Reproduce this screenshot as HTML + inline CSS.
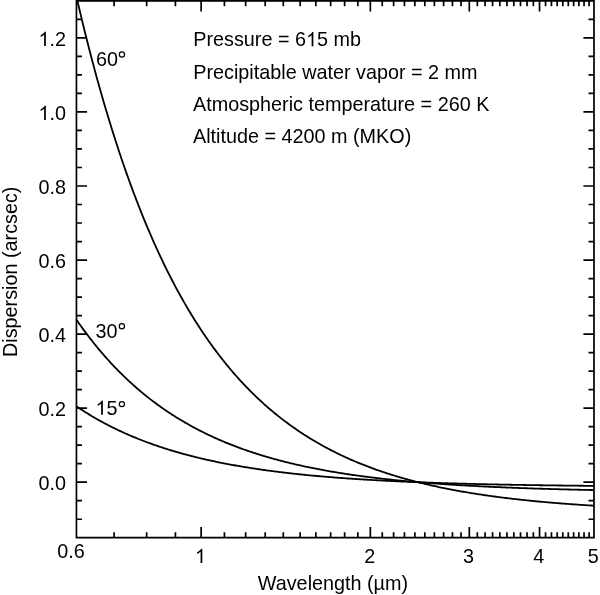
<!DOCTYPE html>
<html><head><meta charset="utf-8"><style>
html,body{margin:0;padding:0;background:#fff;}
svg{display:block;will-change:transform;}
text{font-family:"Liberation Sans",sans-serif;font-size:19.80px;fill:#000;}
.o{fill:none;}
</style></head><body>
<svg width="600" height="595" viewBox="0 0 600 595">
<g fill="none" stroke="#000" stroke-width="1.7" stroke-linecap="butt">
<path d="M76.45,0.87H594.00V537.70H76.45Z" stroke-linejoin="miter"/>
<path d="M201.14,537.70V527.10 M201.14,0.87V11.47 M370.34,537.70V527.10 M370.34,0.87V11.47 M469.31,537.70V527.10 M469.31,0.87V11.47 M539.54,537.70V527.10 M539.54,0.87V11.47 M114.08,537.70V532.20 M114.08,0.87V6.37 M146.67,537.70V532.20 M146.67,0.87V6.37 M175.42,537.70V532.20 M175.42,0.87V6.37 M224.41,537.70V532.20 M224.41,0.87V6.37 M245.65,537.70V532.20 M245.65,0.87V6.37 M265.19,537.70V532.20 M265.19,0.87V6.37 M283.28,537.70V532.20 M283.28,0.87V6.37 M300.12,537.70V532.20 M300.12,0.87V6.37 M315.87,537.70V532.20 M315.87,0.87V6.37 M330.67,537.70V532.20 M330.67,0.87V6.37 M344.62,537.70V532.20 M344.62,0.87V6.37 M357.82,537.70V532.20 M357.82,0.87V6.37 M382.25,537.70V532.20 M382.25,0.87V6.37 M393.60,537.70V532.20 M393.60,0.87V6.37 M404.46,537.70V532.20 M404.46,0.87V6.37 M414.84,537.70V532.20 M414.84,0.87V6.37 M424.81,537.70V532.20 M424.81,0.87V6.37 M434.38,537.70V532.20 M434.38,0.87V6.37 M443.60,537.70V532.20 M443.60,0.87V6.37 M452.47,537.70V532.20 M452.47,0.87V6.37 M461.04,537.70V532.20 M461.04,0.87V6.37 M477.32,537.70V532.20 M477.32,0.87V6.37 M485.07,537.70V532.20 M485.07,0.87V6.37 M492.58,537.70V532.20 M492.58,0.87V6.37 M499.87,537.70V532.20 M499.87,0.87V6.37 M506.94,537.70V532.20 M506.94,0.87V6.37 M513.82,537.70V532.20 M513.82,0.87V6.37 M520.51,537.70V532.20 M520.51,0.87V6.37 M527.02,537.70V532.20 M527.02,0.87V6.37 M533.36,537.70V532.20 M533.36,0.87V6.37 M545.56,537.70V532.20 M545.56,0.87V6.37 M551.45,537.70V532.20 M551.45,0.87V6.37 M557.19,537.70V532.20 M557.19,0.87V6.37 M562.80,537.70V532.20 M562.80,0.87V6.37 M568.29,537.70V532.20 M568.29,0.87V6.37 M573.65,537.70V532.20 M573.65,0.87V6.37 M578.90,537.70V532.20 M578.90,0.87V6.37 M584.04,537.70V532.20 M584.04,0.87V6.37 M589.07,537.70V532.20 M589.07,0.87V6.37 M76.45,519.23H81.95 M594.00,519.23H588.50 M76.45,500.71H81.95 M594.00,500.71H588.50 M76.45,482.20H87.05 M594.00,482.20H583.40 M76.45,463.69H81.95 M594.00,463.69H588.50 M76.45,445.18H81.95 M594.00,445.18H588.50 M76.45,426.66H81.95 M594.00,426.66H588.50 M76.45,408.15H87.05 M594.00,408.15H583.40 M76.45,389.64H81.95 M594.00,389.64H588.50 M76.45,371.12H81.95 M594.00,371.12H588.50 M76.45,352.61H81.95 M594.00,352.61H588.50 M76.45,334.10H87.05 M594.00,334.10H583.40 M76.45,315.59H81.95 M594.00,315.59H588.50 M76.45,297.07H81.95 M594.00,297.07H588.50 M76.45,278.56H81.95 M594.00,278.56H588.50 M76.45,260.05H87.05 M594.00,260.05H583.40 M76.45,241.54H81.95 M594.00,241.54H588.50 M76.45,223.02H81.95 M594.00,223.02H588.50 M76.45,204.51H81.95 M594.00,204.51H588.50 M76.45,186.00H87.05 M594.00,186.00H583.40 M76.45,167.49H81.95 M594.00,167.49H588.50 M76.45,148.97H81.95 M594.00,148.97H588.50 M76.45,130.46H81.95 M594.00,130.46H588.50 M76.45,111.95H87.05 M594.00,111.95H583.40 M76.45,93.44H81.95 M594.00,93.44H588.50 M76.45,74.92H81.95 M594.00,74.92H588.50 M76.45,56.41H81.95 M594.00,56.41H588.50 M76.45,37.90H87.05 M594.00,37.90H583.40 M76.45,19.39H81.95 M594.00,19.39H588.50"/>
</g>
<g fill="none" stroke="#000" stroke-width="1.8" stroke-linejoin="round">
<path d="M77.43,0.87 L77.74,2.23 L79.04,7.75 L80.33,13.21 L81.63,18.60 L82.92,23.94 L84.21,29.21 L85.51,34.43 L86.80,39.59 L88.10,44.70 L89.39,49.75 L90.68,54.74 L91.98,59.67 L93.27,64.56 L94.56,69.39 L95.86,74.16 L97.15,78.89 L98.45,83.56 L99.74,88.18 L101.03,92.75 L102.33,97.27 L103.62,101.74 L104.92,106.16 L106.21,110.53 L107.50,114.86 L108.80,119.13 L110.09,123.36 L111.39,127.55 L112.68,131.69 L113.97,135.78 L115.27,139.83 L116.56,143.83 L117.85,147.79 L119.15,151.71 L120.44,155.58 L121.74,159.42 L123.03,163.21 L124.32,166.96 L125.62,170.67 L126.91,174.33 L128.21,177.96 L129.50,181.55 L130.79,185.10 L132.09,188.61 L133.38,192.08 L134.68,195.52 L135.97,198.92 L137.26,202.28 L138.56,205.60 L139.85,208.89 L141.14,212.14 L142.44,215.36 L143.73,218.54 L145.03,221.69 L146.32,224.80 L147.61,227.88 L148.91,230.93 L150.20,233.94 L151.50,236.92 L152.79,239.87 L154.08,242.79 L155.38,245.67 L156.67,248.53 L157.97,251.35 L159.26,254.14 L160.55,256.91 L161.85,259.64 L163.14,262.34 L164.43,265.01 L165.73,267.66 L167.02,270.28 L168.32,272.86 L169.61,275.43 L170.90,277.96 L172.20,280.46 L173.49,282.94 L174.79,285.39 L176.08,287.82 L177.37,290.22 L178.67,292.59 L179.96,294.94 L181.26,297.26 L182.55,299.56 L183.84,301.83 L185.14,304.08 L186.43,306.30 L187.72,308.50 L189.02,310.68 L190.31,312.83 L191.61,314.96 L192.90,317.07 L194.19,319.16 L195.49,321.22 L196.78,323.26 L198.08,325.28 L199.37,327.27 L200.66,329.25 L201.96,331.20 L203.25,333.13 L204.55,335.05 L205.84,336.94 L207.13,338.81 L208.43,340.66 L209.72,342.49 L211.01,344.30 L212.31,346.10 L213.60,347.87 L214.90,349.62 L216.19,351.36 L217.48,353.08 L218.78,354.78 L220.07,356.46 L221.37,358.12 L222.66,359.76 L223.95,361.39 L225.25,363.00 L226.54,364.59 L227.84,366.17 L229.13,367.72 L230.42,369.27 L231.72,370.79 L233.01,372.30 L234.30,373.79 L235.60,375.27 L236.89,376.73 L238.19,378.18 L239.48,379.61 L240.77,381.02 L242.07,382.42 L243.36,383.81 L244.66,385.18 L245.95,386.53 L247.24,387.87 L248.54,389.20 L249.83,390.51 L251.13,391.81 L252.42,393.10 L253.71,394.37 L255.01,395.62 L256.30,396.87 L257.59,398.10 L258.89,399.32 L260.18,400.52 L261.48,401.71 L262.77,402.89 L264.06,404.06 L265.36,405.21 L266.65,406.35 L267.95,407.48 L269.24,408.60 L270.53,409.71 L271.83,410.80 L273.12,411.88 L274.42,412.95 L275.71,414.01 L277.00,415.06 L278.30,416.10 L279.59,417.12 L280.88,418.14 L282.18,419.14 L283.47,420.14 L284.77,421.12 L286.06,422.09 L287.35,423.05 L288.65,424.00 L289.94,424.95 L291.24,425.88 L292.53,426.80 L293.82,427.71 L295.12,428.61 L296.41,429.51 L297.71,430.39 L299.00,431.26 L300.29,432.13 L301.59,432.98 L302.88,433.83 L304.17,434.67 L305.47,435.50 L306.76,436.32 L308.06,437.13 L309.35,437.93 L310.64,438.72 L311.94,439.51 L313.23,440.29 L314.53,441.05 L315.82,441.81 L317.11,442.57 L318.41,443.31 L319.70,444.05 L321.00,444.78 L322.29,445.50 L323.58,446.21 L324.88,446.92 L326.17,447.62 L327.46,448.31 L328.76,448.99 L330.05,449.67 L331.35,450.34 L332.64,451.00 L333.93,451.65 L335.23,452.30 L336.52,452.94 L337.82,453.58 L339.11,454.20 L340.40,454.83 L341.70,455.44 L342.99,456.05 L344.29,456.65 L345.58,457.24 L346.87,457.83 L348.17,458.42 L349.46,458.99 L350.75,459.56 L352.05,460.13 L353.34,460.69 L354.64,461.24 L355.93,461.78 L357.22,462.33 L358.52,462.86 L359.81,463.39 L361.11,463.91 L362.40,464.43 L363.69,464.94 L364.99,465.45 L366.28,465.95 L367.58,466.45 L368.87,466.94 L370.16,467.43 L371.46,467.91 L372.75,468.38 L374.04,468.85 L375.34,469.32 L376.63,469.78 L377.93,470.24 L379.22,470.69 L380.51,471.14 L381.81,471.58 L383.10,472.01 L384.40,472.45 L385.69,472.87 L386.98,473.30 L388.28,473.72 L389.57,474.13 L390.87,474.54 L392.16,474.95 L393.45,475.35 L394.75,475.74 L396.04,476.14 L397.33,476.53 L398.63,476.91 L399.92,477.29 L401.22,477.67 L402.51,478.04 L403.80,478.41 L405.10,478.77 L406.39,479.13 L407.69,479.49 L408.98,479.84 L410.27,480.19 L411.57,480.54 L412.86,480.88 L414.16,481.22 L415.45,481.56 L416.74,481.89 L418.04,482.22 L419.33,482.54 L420.62,482.86 L421.92,483.18 L423.21,483.49 L424.51,483.80 L425.80,484.11 L427.09,484.42 L428.39,484.72 L429.68,485.01 L430.98,485.31 L432.27,485.60 L433.56,485.89 L434.86,486.18 L436.15,486.46 L437.45,486.74 L438.74,487.01 L440.03,487.29 L441.33,487.56 L442.62,487.83 L443.91,488.09 L445.21,488.35 L446.50,488.61 L447.80,488.87 L449.09,489.12 L450.38,489.38 L451.68,489.62 L452.97,489.87 L454.27,490.11 L455.56,490.36 L456.85,490.59 L458.15,490.83 L459.44,491.06 L460.74,491.29 L462.03,491.52 L463.32,491.75 L464.62,491.97 L465.91,492.19 L467.21,492.41 L468.50,492.63 L469.79,492.84 L471.09,493.06 L472.38,493.27 L473.67,493.47 L474.97,493.68 L476.26,493.88 L477.56,494.08 L478.85,494.28 L480.14,494.48 L481.44,494.67 L482.73,494.87 L484.03,495.06 L485.32,495.25 L486.61,495.43 L487.91,495.62 L489.20,495.80 L490.50,495.98 L491.79,496.16 L493.08,496.34 L494.38,496.51 L495.67,496.69 L496.96,496.86 L498.26,497.03 L499.55,497.19 L500.85,497.36 L502.14,497.53 L503.43,497.69 L504.73,497.85 L506.02,498.01 L507.32,498.17 L508.61,498.32 L509.90,498.48 L511.20,498.63 L512.49,498.78 L513.79,498.93 L515.08,499.08 L516.37,499.22 L517.67,499.37 L518.96,499.51 L520.25,499.65 L521.55,499.79 L522.84,499.93 L524.14,500.07 L525.43,500.20 L526.72,500.34 L528.02,500.47 L529.31,500.60 L530.61,500.73 L531.90,500.86 L533.19,500.99 L534.49,501.12 L535.78,501.24 L537.08,501.36 L538.37,501.49 L539.66,501.61 L540.96,501.73 L542.25,501.84 L543.54,501.96 L544.84,502.08 L546.13,502.19 L547.43,502.31 L548.72,502.42 L550.01,502.53 L551.31,502.64 L552.60,502.75 L553.90,502.85 L555.19,502.96 L556.48,503.07 L557.78,503.17 L559.07,503.27 L560.37,503.38 L561.66,503.48 L562.95,503.58 L564.25,503.67 L565.54,503.77 L566.83,503.87 L568.13,503.96 L569.42,504.06 L570.72,504.15 L572.01,504.25 L573.30,504.34 L574.60,504.43 L575.89,504.52 L577.19,504.61 L578.48,504.69 L579.77,504.78 L581.07,504.87 L582.36,504.95 L583.66,505.04 L584.95,505.12 L586.24,505.20 L587.54,505.28 L588.83,505.37 L590.12,505.44 L591.42,505.52 L592.71,505.60 L594.01,505.68"/>
<path d="M76.45,319.72 L77.74,321.59 L79.04,323.43 L80.33,325.26 L81.63,327.06 L82.92,328.85 L84.21,330.62 L85.51,332.36 L86.80,334.09 L88.10,335.80 L89.39,337.49 L90.68,339.16 L91.98,340.81 L93.27,342.44 L94.56,344.06 L95.86,345.66 L97.15,347.24 L98.45,348.80 L99.74,350.35 L101.03,351.88 L102.33,353.39 L103.62,354.88 L104.92,356.36 L106.21,357.83 L107.50,359.27 L108.80,360.71 L110.09,362.12 L111.39,363.52 L112.68,364.91 L113.97,366.28 L115.27,367.63 L116.56,368.97 L117.85,370.30 L119.15,371.61 L120.44,372.90 L121.74,374.19 L123.03,375.45 L124.32,376.71 L125.62,377.95 L126.91,379.18 L128.21,380.39 L129.50,381.59 L130.79,382.78 L132.09,383.95 L133.38,385.12 L134.68,386.27 L135.97,387.40 L137.26,388.53 L138.56,389.64 L139.85,390.74 L141.14,391.83 L142.44,392.91 L143.73,393.97 L145.03,395.02 L146.32,396.07 L147.61,397.10 L148.91,398.12 L150.20,399.12 L151.50,400.12 L152.79,401.11 L154.08,402.08 L155.38,403.05 L156.67,404.01 L157.97,404.95 L159.26,405.88 L160.55,406.81 L161.85,407.72 L163.14,408.63 L164.43,409.52 L165.73,410.41 L167.02,411.28 L168.32,412.15 L169.61,413.01 L170.90,413.85 L172.20,414.69 L173.49,415.52 L174.79,416.34 L176.08,417.15 L177.37,417.96 L178.67,418.75 L179.96,419.54 L181.26,420.31 L182.55,421.08 L183.84,421.84 L185.14,422.60 L186.43,423.34 L187.72,424.08 L189.02,424.80 L190.31,425.52 L191.61,426.24 L192.90,426.94 L194.19,427.64 L195.49,428.33 L196.78,429.01 L198.08,429.69 L199.37,430.36 L200.66,431.02 L201.96,431.67 L203.25,432.32 L204.55,432.96 L205.84,433.59 L207.13,434.22 L208.43,434.84 L209.72,435.45 L211.01,436.06 L212.31,436.66 L213.60,437.25 L214.90,437.84 L216.19,438.42 L217.48,438.99 L218.78,439.56 L220.07,440.12 L221.37,440.68 L222.66,441.23 L223.95,441.77 L225.25,442.31 L226.54,442.84 L227.84,443.37 L229.13,443.89 L230.42,444.41 L231.72,444.92 L233.01,445.42 L234.30,445.92 L235.60,446.42 L236.89,446.91 L238.19,447.39 L239.48,447.87 L240.77,448.34 L242.07,448.81 L243.36,449.27 L244.66,449.73 L245.95,450.19 L247.24,450.64 L248.54,451.08 L249.83,451.52 L251.13,451.95 L252.42,452.38 L253.71,452.81 L255.01,453.23 L256.30,453.64 L257.59,454.06 L258.89,454.46 L260.18,454.87 L261.48,455.27 L262.77,455.66 L264.06,456.05 L265.36,456.44 L266.65,456.82 L267.95,457.20 L269.24,457.57 L270.53,457.94 L271.83,458.31 L273.12,458.67 L274.42,459.03 L275.71,459.38 L277.00,459.73 L278.30,460.08 L279.59,460.42 L280.88,460.76 L282.18,461.10 L283.47,461.43 L284.77,461.76 L286.06,462.09 L287.35,462.41 L288.65,462.73 L289.94,463.04 L291.24,463.35 L292.53,463.66 L293.82,463.97 L295.12,464.27 L296.41,464.57 L297.71,464.86 L299.00,465.16 L300.29,465.44 L301.59,465.73 L302.88,466.01 L304.17,466.29 L305.47,466.57 L306.76,466.85 L308.06,467.12 L309.35,467.39 L310.64,467.65 L311.94,467.91 L313.23,468.17 L314.53,468.43 L315.82,468.69 L317.11,468.94 L318.41,469.19 L319.70,469.43 L321.00,469.68 L322.29,469.92 L323.58,470.16 L324.88,470.39 L326.17,470.63 L327.46,470.86 L328.76,471.09 L330.05,471.31 L331.35,471.54 L332.64,471.76 L333.93,471.98 L335.23,472.19 L336.52,472.41 L337.82,472.62 L339.11,472.83 L340.40,473.04 L341.70,473.25 L342.99,473.45 L344.29,473.65 L345.58,473.85 L346.87,474.05 L348.17,474.24 L349.46,474.43 L350.75,474.62 L352.05,474.81 L353.34,475.00 L354.64,475.19 L355.93,475.37 L357.22,475.55 L358.52,475.73 L359.81,475.91 L361.11,476.08 L362.40,476.25 L363.69,476.43 L364.99,476.60 L366.28,476.76 L367.58,476.93 L368.87,477.09 L370.16,477.26 L371.46,477.42 L372.75,477.58 L374.04,477.73 L375.34,477.89 L376.63,478.04 L377.93,478.20 L379.22,478.35 L380.51,478.50 L381.81,478.65 L383.10,478.79 L384.40,478.94 L385.69,479.08 L386.98,479.22 L388.28,479.36 L389.57,479.50 L390.87,479.64 L392.16,479.77 L393.45,479.91 L394.75,480.04 L396.04,480.17 L397.33,480.30 L398.63,480.43 L399.92,480.56 L401.22,480.68 L402.51,480.81 L403.80,480.93 L405.10,481.05 L406.39,481.17 L407.69,481.29 L408.98,481.41 L410.27,481.53 L411.57,481.64 L412.86,481.76 L414.16,481.87 L415.45,481.98 L416.74,482.10 L418.04,482.21 L419.33,482.31 L420.62,482.42 L421.92,482.53 L423.21,482.63 L424.51,482.74 L425.80,482.84 L427.09,482.94 L428.39,483.04 L429.68,483.14 L430.98,483.24 L432.27,483.34 L433.56,483.43 L434.86,483.53 L436.15,483.62 L437.45,483.72 L438.74,483.81 L440.03,483.90 L441.33,483.99 L442.62,484.08 L443.91,484.17 L445.21,484.26 L446.50,484.35 L447.80,484.43 L449.09,484.52 L450.38,484.60 L451.68,484.68 L452.97,484.77 L454.27,484.85 L455.56,484.93 L456.85,485.01 L458.15,485.09 L459.44,485.17 L460.74,485.24 L462.03,485.32 L463.32,485.40 L464.62,485.47 L465.91,485.54 L467.21,485.62 L468.50,485.69 L469.79,485.76 L471.09,485.83 L472.38,485.90 L473.67,485.97 L474.97,486.04 L476.26,486.11 L477.56,486.18 L478.85,486.24 L480.14,486.31 L481.44,486.37 L482.73,486.44 L484.03,486.50 L485.32,486.57 L486.61,486.63 L487.91,486.69 L489.20,486.75 L490.50,486.81 L491.79,486.87 L493.08,486.93 L494.38,486.99 L495.67,487.05 L496.96,487.10 L498.26,487.16 L499.55,487.22 L500.85,487.27 L502.14,487.33 L503.43,487.38 L504.73,487.44 L506.02,487.49 L507.32,487.54 L508.61,487.59 L509.90,487.65 L511.20,487.70 L512.49,487.75 L513.79,487.80 L515.08,487.85 L516.37,487.90 L517.67,487.94 L518.96,487.99 L520.25,488.04 L521.55,488.09 L522.84,488.13 L524.14,488.18 L525.43,488.22 L526.72,488.27 L528.02,488.31 L529.31,488.36 L530.61,488.40 L531.90,488.44 L533.19,488.49 L534.49,488.53 L535.78,488.57 L537.08,488.61 L538.37,488.65 L539.66,488.69 L540.96,488.73 L542.25,488.77 L543.54,488.81 L544.84,488.85 L546.13,488.89 L547.43,488.93 L548.72,488.97 L550.01,489.00 L551.31,489.04 L552.60,489.08 L553.90,489.11 L555.19,489.15 L556.48,489.18 L557.78,489.22 L559.07,489.25 L560.37,489.29 L561.66,489.32 L562.95,489.35 L564.25,489.39 L565.54,489.42 L566.83,489.45 L568.13,489.48 L569.42,489.51 L570.72,489.55 L572.01,489.58 L573.30,489.61 L574.60,489.64 L575.89,489.67 L577.19,489.70 L578.48,489.73 L579.77,489.76 L581.07,489.79 L582.36,489.81 L583.66,489.84 L584.95,489.87 L586.24,489.90 L587.54,489.92 L588.83,489.95 L590.12,489.98 L591.42,490.00 L592.71,490.03 L594.01,490.06"/>
<path d="M76.45,406.34 L77.74,407.21 L79.04,408.08 L80.33,408.93 L81.63,409.77 L82.92,410.60 L84.21,411.43 L85.51,412.24 L86.80,413.05 L88.10,413.85 L89.39,414.64 L90.68,415.42 L91.98,416.19 L93.27,416.95 L94.56,417.71 L95.86,418.45 L97.15,419.19 L98.45,419.92 L99.74,420.64 L101.03,421.36 L102.33,422.06 L103.62,422.76 L104.92,423.45 L106.21,424.13 L107.50,424.81 L108.80,425.48 L110.09,426.14 L111.39,426.79 L112.68,427.44 L113.97,428.08 L115.27,428.71 L116.56,429.34 L117.85,429.95 L119.15,430.57 L120.44,431.17 L121.74,431.77 L123.03,432.36 L124.32,432.95 L125.62,433.53 L126.91,434.10 L128.21,434.67 L129.50,435.23 L130.79,435.78 L132.09,436.33 L133.38,436.87 L134.68,437.41 L135.97,437.94 L137.26,438.47 L138.56,438.99 L139.85,439.50 L141.14,440.01 L142.44,440.51 L143.73,441.01 L145.03,441.50 L146.32,441.99 L147.61,442.47 L148.91,442.94 L150.20,443.41 L151.50,443.88 L152.79,444.34 L154.08,444.80 L155.38,445.25 L156.67,445.69 L157.97,446.13 L159.26,446.57 L160.55,447.00 L161.85,447.43 L163.14,447.85 L164.43,448.27 L165.73,448.68 L167.02,449.09 L168.32,449.50 L169.61,449.90 L170.90,450.29 L172.20,450.68 L173.49,451.07 L174.79,451.45 L176.08,451.83 L177.37,452.21 L178.67,452.58 L179.96,452.94 L181.26,453.31 L182.55,453.67 L183.84,454.02 L185.14,454.37 L186.43,454.72 L187.72,455.06 L189.02,455.40 L190.31,455.74 L191.61,456.07 L192.90,456.40 L194.19,456.73 L195.49,457.05 L196.78,457.37 L198.08,457.68 L199.37,458.00 L200.66,458.30 L201.96,458.61 L203.25,458.91 L204.55,459.21 L205.84,459.51 L207.13,459.80 L208.43,460.09 L209.72,460.37 L211.01,460.66 L212.31,460.94 L213.60,461.21 L214.90,461.49 L216.19,461.76 L217.48,462.03 L218.78,462.29 L220.07,462.55 L221.37,462.81 L222.66,463.07 L223.95,463.33 L225.25,463.58 L226.54,463.83 L227.84,464.07 L229.13,464.32 L230.42,464.56 L231.72,464.79 L233.01,465.03 L234.30,465.26 L235.60,465.49 L236.89,465.72 L238.19,465.95 L239.48,466.17 L240.77,466.39 L242.07,466.61 L243.36,466.83 L244.66,467.04 L245.95,467.25 L247.24,467.46 L248.54,467.67 L249.83,467.88 L251.13,468.08 L252.42,468.28 L253.71,468.48 L255.01,468.67 L256.30,468.87 L257.59,469.06 L258.89,469.25 L260.18,469.44 L261.48,469.63 L262.77,469.81 L264.06,469.99 L265.36,470.17 L266.65,470.35 L267.95,470.53 L269.24,470.70 L270.53,470.87 L271.83,471.05 L273.12,471.21 L274.42,471.38 L275.71,471.55 L277.00,471.71 L278.30,471.87 L279.59,472.03 L280.88,472.19 L282.18,472.35 L283.47,472.50 L284.77,472.66 L286.06,472.81 L287.35,472.96 L288.65,473.11 L289.94,473.26 L291.24,473.40 L292.53,473.54 L293.82,473.69 L295.12,473.83 L296.41,473.97 L297.71,474.11 L299.00,474.24 L300.29,474.38 L301.59,474.51 L302.88,474.64 L304.17,474.77 L305.47,474.90 L306.76,475.03 L308.06,475.16 L309.35,475.28 L310.64,475.41 L311.94,475.53 L313.23,475.65 L314.53,475.77 L315.82,475.89 L317.11,476.01 L318.41,476.12 L319.70,476.24 L321.00,476.35 L322.29,476.47 L323.58,476.58 L324.88,476.69 L326.17,476.80 L327.46,476.90 L328.76,477.01 L330.05,477.12 L331.35,477.22 L332.64,477.33 L333.93,477.43 L335.23,477.53 L336.52,477.63 L337.82,477.73 L339.11,477.83 L340.40,477.92 L341.70,478.02 L342.99,478.11 L344.29,478.21 L345.58,478.30 L346.87,478.39 L348.17,478.48 L349.46,478.57 L350.75,478.66 L352.05,478.75 L353.34,478.84 L354.64,478.93 L355.93,479.01 L357.22,479.09 L358.52,479.18 L359.81,479.26 L361.11,479.34 L362.40,479.42 L363.69,479.50 L364.99,479.58 L366.28,479.66 L367.58,479.74 L368.87,479.82 L370.16,479.89 L371.46,479.97 L372.75,480.04 L374.04,480.12 L375.34,480.19 L376.63,480.26 L377.93,480.33 L379.22,480.40 L380.51,480.47 L381.81,480.54 L383.10,480.61 L384.40,480.68 L385.69,480.74 L386.98,480.81 L388.28,480.87 L389.57,480.94 L390.87,481.00 L392.16,481.07 L393.45,481.13 L394.75,481.19 L396.04,481.25 L397.33,481.31 L398.63,481.37 L399.92,481.43 L401.22,481.49 L402.51,481.55 L403.80,481.61 L405.10,481.66 L406.39,481.72 L407.69,481.78 L408.98,481.83 L410.27,481.89 L411.57,481.94 L412.86,481.99 L414.16,482.05 L415.45,482.10 L416.74,482.15 L418.04,482.20 L419.33,482.25 L420.62,482.30 L421.92,482.35 L423.21,482.40 L424.51,482.45 L425.80,482.50 L427.09,482.55 L428.39,482.59 L429.68,482.64 L430.98,482.69 L432.27,482.73 L433.56,482.78 L434.86,482.82 L436.15,482.87 L437.45,482.91 L438.74,482.95 L440.03,482.99 L441.33,483.04 L442.62,483.08 L443.91,483.12 L445.21,483.16 L446.50,483.20 L447.80,483.24 L449.09,483.28 L450.38,483.32 L451.68,483.36 L452.97,483.40 L454.27,483.44 L455.56,483.47 L456.85,483.51 L458.15,483.55 L459.44,483.58 L460.74,483.62 L462.03,483.66 L463.32,483.69 L464.62,483.73 L465.91,483.76 L467.21,483.80 L468.50,483.83 L469.79,483.86 L471.09,483.90 L472.38,483.93 L473.67,483.96 L474.97,483.99 L476.26,484.03 L477.56,484.06 L478.85,484.09 L480.14,484.12 L481.44,484.15 L482.73,484.18 L484.03,484.21 L485.32,484.24 L486.61,484.27 L487.91,484.30 L489.20,484.32 L490.50,484.35 L491.79,484.38 L493.08,484.41 L494.38,484.44 L495.67,484.46 L496.96,484.49 L498.26,484.52 L499.55,484.54 L500.85,484.57 L502.14,484.59 L503.43,484.62 L504.73,484.64 L506.02,484.67 L507.32,484.69 L508.61,484.72 L509.90,484.74 L511.20,484.77 L512.49,484.79 L513.79,484.81 L515.08,484.84 L516.37,484.86 L517.67,484.88 L518.96,484.90 L520.25,484.93 L521.55,484.95 L522.84,484.97 L524.14,484.99 L525.43,485.01 L526.72,485.03 L528.02,485.05 L529.31,485.08 L530.61,485.10 L531.90,485.12 L533.19,485.14 L534.49,485.16 L535.78,485.17 L537.08,485.19 L538.37,485.21 L539.66,485.23 L540.96,485.25 L542.25,485.27 L543.54,485.29 L544.84,485.31 L546.13,485.32 L547.43,485.34 L548.72,485.36 L550.01,485.38 L551.31,485.39 L552.60,485.41 L553.90,485.43 L555.19,485.44 L556.48,485.46 L557.78,485.48 L559.07,485.49 L560.37,485.51 L561.66,485.52 L562.95,485.54 L564.25,485.56 L565.54,485.57 L566.83,485.59 L568.13,485.60 L569.42,485.62 L570.72,485.63 L572.01,485.64 L573.30,485.66 L574.60,485.67 L575.89,485.69 L577.19,485.70 L578.48,485.71 L579.77,485.73 L581.07,485.74 L582.36,485.75 L583.66,485.77 L584.95,485.78 L586.24,485.79 L587.54,485.81 L588.83,485.82 L590.12,485.83 L591.42,485.84 L592.71,485.86 L594.01,485.87"/>
</g>
<text x="66.00" y="45.90" text-anchor="end"><tspan class="o">1</tspan>.2</text>
<text x="66.00" y="119.95" text-anchor="end"><tspan class="o">1</tspan>.0</text>
<text x="66.00" y="194.00" text-anchor="end">0.8</text>
<text x="66.00" y="268.05" text-anchor="end">0.6</text>
<text x="66.00" y="342.10" text-anchor="end">0.4</text>
<text x="66.00" y="416.15" text-anchor="end">0.2</text>
<text x="66.00" y="490.20" text-anchor="end">0.0</text>
<text x="71.00" y="558.00" text-anchor="middle">0.6</text>
<text x="200.44" y="562.90" text-anchor="middle"><tspan class="o">1</tspan></text>
<text x="369.64" y="562.90" text-anchor="middle">2</text>
<text x="468.61" y="562.90" text-anchor="middle">3</text>
<text x="538.84" y="562.90" text-anchor="middle">4</text>
<text x="593.20" y="562.90" text-anchor="middle">5</text>
<text x="193.30" y="46.30" text-anchor="start">Pressure = 6<tspan class="o">1</tspan>5 mb</text>
<text x="193.30" y="78.50" text-anchor="start">Precipitable water vapor = 2 mm</text>
<text x="193.00" y="110.50" text-anchor="start">Atmospheric temperature = 260 K</text>
<text x="193.00" y="142.50" text-anchor="start">Altitude = 4200 m (MKO)</text>
<text x="95.90" y="66.00" text-anchor="start">60</text>
<text x="95.50" y="337.50" text-anchor="start">30</text>
<text x="95.50" y="414.80" text-anchor="start"><tspan class="o">1</tspan>5</text>
<text x="257.80" y="590.30" text-anchor="start">Wavelength (µm)</text>
<text transform="translate(16.6,271.8) rotate(-90)" text-anchor="middle">Dispersion (arcsec)</text>
<g fill="#000"><path transform="translate(38.48,45.90) scale(0.009668,-0.009668)" d="M763 0H583V1147Q518 1085 412.5 1023Q307 961 223 930V1104Q374 1175 487 1276Q600 1377 647 1472H763V0Z"/><path transform="translate(38.48,119.95) scale(0.009668,-0.009668)" d="M763 0H583V1147Q518 1085 412.5 1023Q307 961 223 930V1104Q374 1175 487 1276Q600 1377 647 1472H763V0Z"/><path transform="translate(194.93,562.90) scale(0.009668,-0.009668)" d="M763 0H583V1147Q518 1085 412.5 1023Q307 961 223 930V1104Q374 1175 487 1276Q600 1377 647 1472H763V0Z"/><path transform="translate(306.00,46.30) scale(0.009668,-0.009668)" d="M763 0H583V1147Q518 1085 412.5 1023Q307 961 223 930V1104Q374 1175 487 1276Q600 1377 647 1472H763V0Z"/><path transform="translate(95.50,414.80) scale(0.009668,-0.009668)" d="M763 0H583V1147Q518 1085 412.5 1023Q307 961 223 930V1104Q374 1175 487 1276Q600 1377 647 1472H763V0Z"/></g>
<g fill="none" stroke="#000" stroke-width="1.25">
<circle cx="121.95" cy="54.4" r="2.6"/>
<circle cx="121.9" cy="326.3" r="2.6"/>
<circle cx="121.9" cy="404.1" r="2.6"/>
</g>
</svg>
</body></html>
